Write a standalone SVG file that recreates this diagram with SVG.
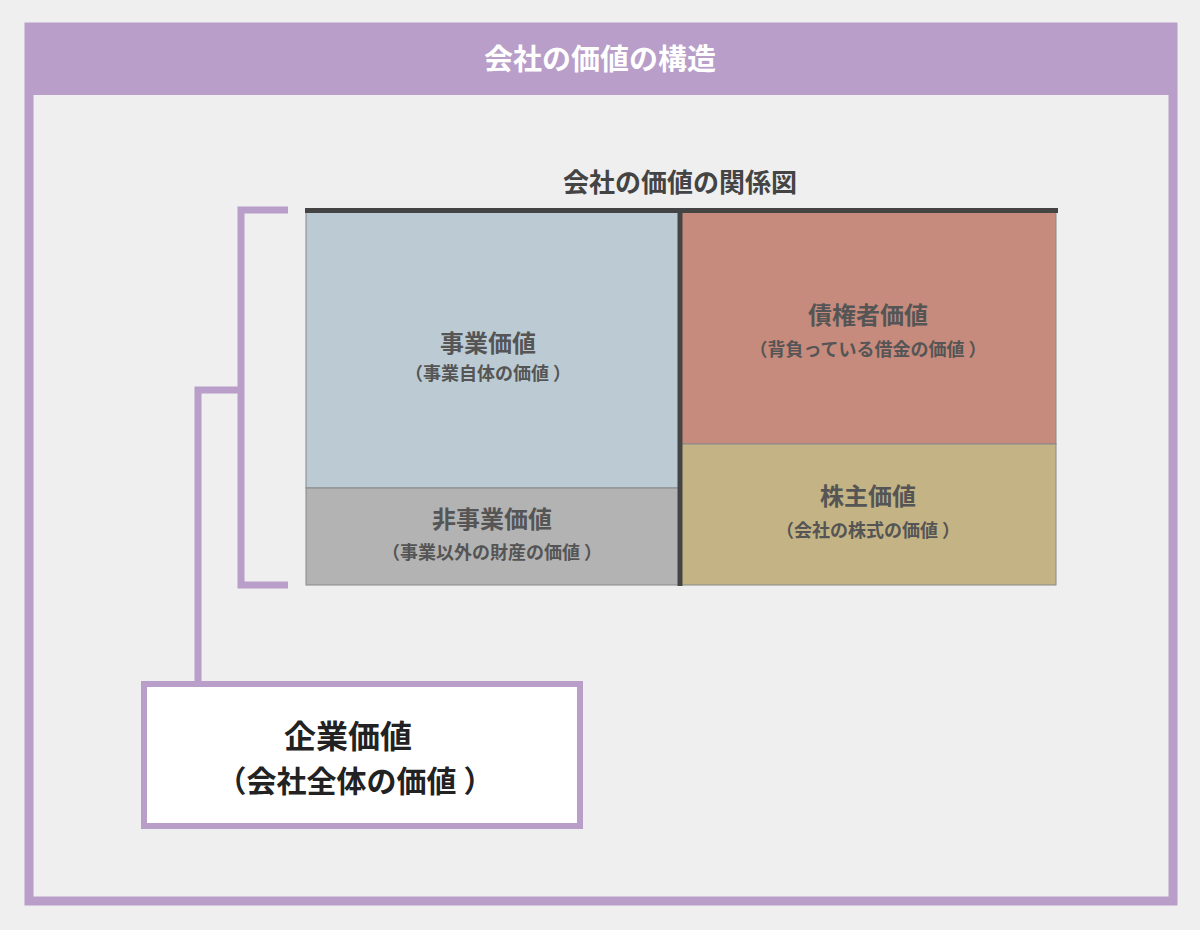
<svg xmlns="http://www.w3.org/2000/svg" width="1200" height="930" viewBox="0 0 1200 930">
<style>
.t{font-family:"Noto Sans CJK JP","Noto Sans",sans-serif;font-weight:bold;fill:#555;text-anchor:middle}
.p{fill:none;stroke:#b89ec8;stroke-width:7}
</style>
<rect width="1200" height="930" fill="#efefef"/>
<rect x="29" y="27" width="1144" height="874" fill="#efefef" stroke="#b89ec8" stroke-width="9"/>
<rect x="25" y="23" width="1152" height="72" fill="#b89ec8"/>
<text class="t" x="600" y="70" font-size="29" style="fill:#fff">会社の価値の構造</text>
<text class="t" x="680" y="192" font-size="26" style="fill:#444">会社の価値の関係図</text>
<g id="business"><rect x="306" y="212" width="373" height="276" fill="#bccbd3" stroke="#888" stroke-width="1"/>
<text class="t" x="488" y="352" font-size="24">事業価値</text><text class="t" x="488" y="380" font-size="18">（事業自体の価値 ）</text></g>
<g id="nonbusiness"><rect x="306" y="488" width="373" height="97" fill="#b3b3b3" stroke="#888" stroke-width="1"/>
<text class="t" x="492" y="528" font-size="24">非事業価値</text><text class="t" x="492" y="559" font-size="18">（事業以外の財産の価値 ）</text></g>
<g id="debt"><rect x="681" y="212" width="375" height="232" fill="#c68b7c" stroke="#888" stroke-width="1"/>
<text class="t" x="868" y="324" font-size="24">債権者価値</text><text class="t" x="868" y="356" font-size="18">（背負っている借金の価値 ）</text></g>
<g id="equity"><rect x="681" y="444" width="375" height="141" fill="#c4b384" stroke="#888" stroke-width="1"/>
<text class="t" x="868" y="505" font-size="24">株主価値</text><text class="t" x="868" y="537" font-size="18">（会社の株式の価値 ）</text></g>
<g id="connectors">
<line x1="305" y1="210.5" x2="1058" y2="210.5" stroke="#444" stroke-width="5"/>
<line x1="680" y1="210" x2="680" y2="586" stroke="#444" stroke-width="5"/>
<polyline class="p" points="288,210 241,210 241,585 288,585"/>
<polyline class="p" points="241,390 198,390 198,684"/>
</g>
<g id="enterprise"><rect x="144" y="684" width="436" height="142" fill="#fff" stroke="#b89ec8" stroke-width="6"/>
<text class="t" x="348" y="748" font-size="32" style="fill:#222">企業価値</text><text class="t" x="355" y="792" font-size="30" style="fill:#222">（会社全体の価値 ）</text></g>
</svg>
